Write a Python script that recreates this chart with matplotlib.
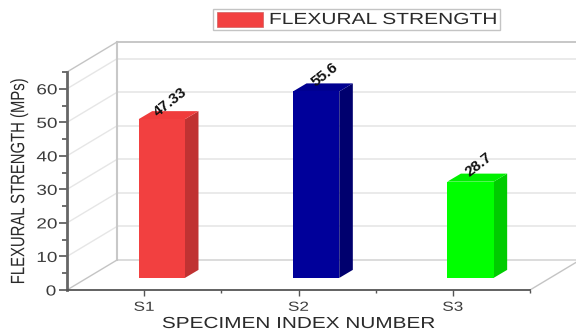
import matplotlib
matplotlib.use('Agg')
import matplotlib.pyplot as plt
from matplotlib.patches import Rectangle
from matplotlib.patheffects import AbstractPathEffect
from matplotlib.transforms import Affine2D

specimens = ['S1', 'S2', 'S3']
strength = [47.33, 55.6, 28.7]
value_labels = ['47.33', '55.6', '28.7']
front_colors = ['#f24040', '#00009a', '#00ff00']
side_colors = ['#c03232', '#00006e', '#00cc00']
top_colors = ['#f03c3c', '#000090', '#00f000']
y_ticks = [0, 10, 20, 30, 40, 50, 60]
y_minor = [5, 15, 25, 35, 45, 55, 65]
x_minor = [1.5, 2.5, 3.5]

# oblique offsets of the 3D look, in data units
wall_dx, wall_dy = 0.326, 9.0
bar_dx, bar_dy = 0.088, 2.4
floor_dx, floor_dy = 0.114, 3.6
bar_w = 0.30


class Widen(AbstractPathEffect):
    # stretches a text horizontally about its own centre
    def __init__(self, sx):
        super().__init__()
        self.sx = sx

    def draw_path(self, renderer, gc, tpath, affine, rgbFace=None):
        box = tpath.get_extents(affine)
        cx = (box.x0 + box.x1) / 2
        widen = Affine2D().translate(-cx, 0).scale(self.sx, 1).translate(cx, 0)
        renderer.draw_path(gc, tpath, affine + widen, rgbFace)


plt.rcParams['font.family'] = ['Liberation Sans', 'DejaVu Sans']
wide = [Widen(1.3)]

fig = plt.figure(figsize=(5.76, 3.33), dpi=100)
ax = fig.add_axes([67 / 576, (333 - 290) / 333, 463 / 576, 218 / 333])
ax.set_xlim(0.5, 3.5)
ax.set_ylim(0, 65)
ax.patch.set_visible(False)

# back wall with its gridlines, side wall and floor edges
left, right = 0.5 + wall_dx, 3.5 + wall_dx
for y in y_ticks[1:]:
    ax.plot([left, right], [y + wall_dy, y + wall_dy], color='#e6e6e6', lw=1.2, clip_on=False, zorder=1)
    ax.plot([0.5, left], [y, y + wall_dy], color='#e6e6e6', lw=1.0, clip_on=False, zorder=1)
ax.plot([left, right], [wall_dy, wall_dy], color='#d6d6d6', lw=1.2, clip_on=False, zorder=1)
ax.plot([left, right], [65 + wall_dy, 65 + wall_dy], color='#bdbdbd', lw=1.2, clip_on=False, zorder=1)
ax.plot([left, left], [wall_dy, 65 + wall_dy], color='#c8c8c8', lw=1.5, clip_on=False, zorder=1)
ax.plot([0.5, left], [0, wall_dy], color='#c4c4c4', lw=1.0, clip_on=False, zorder=1)
ax.plot([0.5, left], [65, 65 + wall_dy], color='#c4c4c4', lw=1.0, clip_on=False, zorder=1)
ax.plot([3.5, right], [0, wall_dy], color='#c4c4c4', lw=1.0, clip_on=False, zorder=1)

for i, v in enumerate(strength):
    x = i + 1 + floor_dx
    x0, x1 = x - bar_w / 2, x + bar_w / 2
    y0, y1 = floor_dy, floor_dy + v
    ax.fill([x1, x1 + bar_dx, x1 + bar_dx, x1], [y0, y0 + bar_dy, y1 + bar_dy, y1],
            color=side_colors[i], lw=0, zorder=2)
    ax.fill([x0, x1, x1 + bar_dx, x0 + bar_dx], [y1, y1, y1 + bar_dy, y1 + bar_dy],
            color=top_colors[i], lw=0, zorder=2)
    ax.bar(x, v, bar_w, bottom=y0, color=front_colors[i], lw=0, zorder=3)
    ax.annotate(value_labels[i], (x, y1), xytext=(6, 12), textcoords='offset points',
                rotation=38, ha='center', va='center', fontsize=11, color='#111111',
                fontweight='bold', zorder=4, annotation_clip=False)

for side in ['top', 'right']:
    ax.spines[side].set_visible(False)
ax.spines['left'].set_color('#666666')
ax.spines['left'].set_linewidth(2.0)
ax.spines['bottom'].set_color('#555555')
ax.spines['bottom'].set_linewidth(1.3)

ax.set_yticks(y_ticks)
ax.set_yticks(y_minor, minor=True)
ax.set_xticks([1, 2, 3], specimens)
ax.set_xticks(x_minor, minor=True)
ax.tick_params(axis='y', which='major', length=6, width=1.2, color='#555555', labelsize=10.5,
               labelcolor='#3c3c3c', pad=2.5)
ax.tick_params(axis='y', which='minor', length=3.5, width=1.2, color='#555555')
ax.tick_params(axis='x', which='major', length=4.5, width=1.0, color='#555555', labelsize=9.5,
               labelcolor='#3c3c3c', pad=4)
ax.tick_params(axis='x', which='minor', length=2.5, width=1.0, color='#555555')
for label in ax.get_xticklabels() + ax.get_yticklabels():
    label.set_path_effects(wide)

fig.text(298.5 / 576, 1 - 323.5 / 333, 'SPECIMEN INDEX NUMBER', ha='center', va='center',
         fontsize=11.5, color='#2a2a2a', path_effects=wide)
fig.text(19 / 576, 1 - 181 / 333, 'FLEXURAL STRENGTH (MPs)', ha='center', va='center', rotation=90,
         fontsize=10.7, color='#2a2a2a', path_effects=wide)

# legend box
fig.add_artist(Rectangle((213 / 576, 1 - 30 / 333), 287 / 576, 21 / 333, transform=fig.transFigure,
                         facecolor='white', edgecolor='#c4c4c4', lw=1.0))
fig.add_artist(Rectangle((217 / 576, 1 - 27 / 333), 46 / 576, 15 / 333, transform=fig.transFigure,
                         facecolor=front_colors[0], edgecolor='#d06060', lw=0.5))
fig.text(383.5 / 576, 1 - 19.5 / 333, 'FLEXURAL STRENGTH', ha='center', va='center',
         fontsize=11.6, color='#2a2a2a', path_effects=wide)

fig.savefig('out.png', dpi=100)
